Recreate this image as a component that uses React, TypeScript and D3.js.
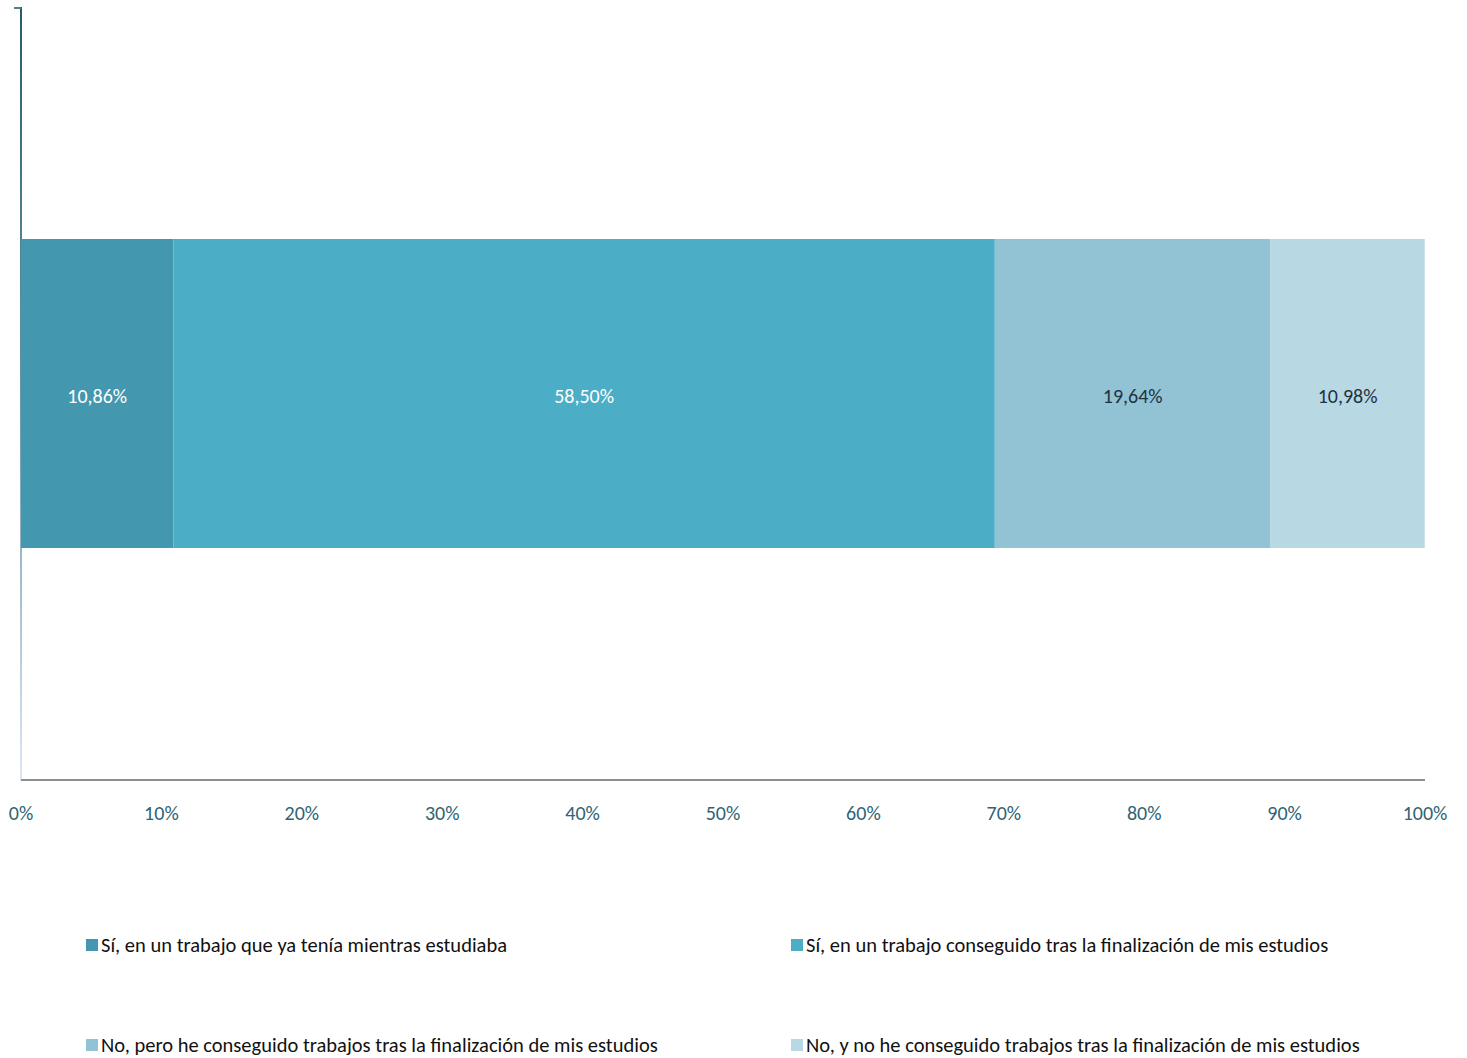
import * as d3 from "d3";
import React from "react";

const categories = [
  "Sí, en un trabajo que ya tenía mientras estudiaba",
  "Sí, en un trabajo conseguido tras la finalización de mis estudios",
  "No, pero he conseguido trabajos tras la finalización de mis estudios",
  "No, y no he conseguido trabajos tras la finalización de mis estudios",
];
const values = [10.86, 58.5, 19.64, 10.98];
const labels = ["10,86%", "58,50%", "19,64%", "10,98%"];
const colors = ["#4397ae", "#4badc6", "#92c3d4", "#b8d8e3"];
const labelColors = ["#ffffff", "#ffffff", "#1d3344", "#1d3344"];
const ticks = [0, 10, 20, 30, 40, 50, 60, 70, 80, 90, 100];

const W = 1467;
const H = 1058;
const FONT = "Carlito, 'Liberation Sans Narrow', 'DejaVu Sans Condensed', sans-serif";

const App = () => {
  const x = d3.scaleLinear().domain([0, 100]).range([21, 1425]);

  let acc = 0;
  const segs = values.map((v, i) => {
    const s = { start: acc, end: acc + v, i };
    acc += v;
    return s;
  });

  const barY = 239;
  const barH = 309;

  return (
    <svg width={W} height={H} style={{ position: "absolute", left: 0, top: 0, fontFamily: FONT }}>
      <defs>
        <linearGradient id="yAxisGrad" x1="0" y1="0" x2="0" y2="1">
          <stop offset="0%" stopColor="#275c6c" />
          <stop offset="50%" stopColor="#6b97ab" />
          <stop offset="100%" stopColor="#dde6f5" />
        </linearGradient>
      </defs>
      {/* y axis */}
      <rect x={20} y={7} width={2} height={774} fill="url(#yAxisGrad)" />
      <rect x={14} y={7} width={7} height={2} fill="#4d7f8e" />
      {/* bars */}
      {segs.map((s) => (
        <rect
          key={s.i}
          x={x(s.start)}
          y={barY}
          width={x(s.end) - x(s.start)}
          height={barH}
          fill={colors[s.i]}
        />
      ))}
      {segs.map((s) => (
        <text
          key={"l" + s.i}
          x={(x(s.start) + x(s.end)) / 2}
          y={barY + barH / 2 + 2}
          dy="0.35em"
          textAnchor="middle"
          fontSize={20}
          fill={labelColors[s.i]}
        >
          {labels[s.i]}
        </text>
      ))}
      {/* x axis */}
      <rect x={21} y={779} width={1404} height={2} fill="#8f8f8f" />
      {ticks.map((t) => (
        <text key={t} x={x(t)} y={813} dy="0.35em" textAnchor="middle" fontSize={20} fill="#2f6474">
          {t + "%"}
        </text>
      ))}
      {/* legend */}
      {categories.map((c, i) => {
        const lx = i % 2 === 0 ? 86 : 791;
        const ly = i < 2 ? 945 : 1045;
        return (
          <g key={c}>
            <rect x={lx} y={ly - 6} width={12} height={12} fill={colors[i]} />
            <text x={lx + 15} y={ly} dy="0.35em" fontSize={20.5} fill="#111111">
              {c}
            </text>
          </g>
        );
      })}
    </svg>
  );
};

export default App;
